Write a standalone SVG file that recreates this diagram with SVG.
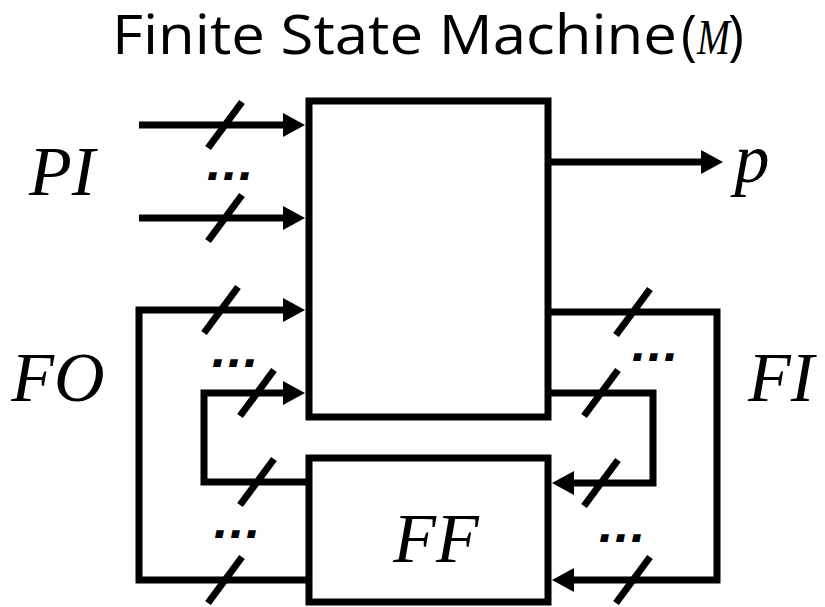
<svg xmlns="http://www.w3.org/2000/svg" width="825" height="607" viewBox="0 0 825 607">
<style>
.box{fill:#fff;stroke:#000;stroke-width:7}
.wire{fill:none;stroke:#000;stroke-width:7;stroke-linejoin:miter}
.arr{marker-end:url(#ah)}
.slash{stroke:#000;stroke-width:7}
.lbl{font-family:"Liberation Serif",serif;font-style:italic;font-size:70px;fill:#000;text-anchor:middle}
.dots{font-family:"DejaVu Sans",sans-serif;font-style:italic;font-weight:bold;font-size:40px;fill:#000}
.title{font-family:"Open Sans","Liberation Sans",sans-serif;font-size:54px;fill:#000}
</style>
<defs>
<marker id="ah" markerUnits="userSpaceOnUse" markerWidth="22" markerHeight="24" refX="10" refY="12" orient="auto" overflow="visible">
<path d="M0,0 L22,12 L0,24 Z" fill="#000"/>
</marker>
<line id="sl" class="slash" x1="-17" y1="23" x2="17" y2="-23"/>
</defs>
<g id="title">
<text class="title" x="112" y="54" textLength="565" lengthAdjust="spacingAndGlyphs">Finite State Machine</text>
<text class="title" x="681" y="54">(</text>
<text x="697" y="54" textLength="33" lengthAdjust="spacingAndGlyphs" style="font-family:'Liberation Serif',serif;font-style:italic;font-size:50px;fill:#000">M</text>
<text class="title" x="728" y="54">)</text>
</g>
<g id="connectors">
<path class="wire arr" d="M139,125 H293"/>
<path class="wire arr" d="M139,218 H293"/>
<path class="wire arr" d="M309,580 H139 V310 H293"/>
<path class="wire arr" d="M309,482 H204 V393 H293"/>
<path class="wire arr" d="M548,162 H711"/>
<path class="wire arr" d="M548,312 H717 V580 H564"/>
<path class="wire arr" d="M548,393 H653 V483 H564"/>
<use href="#sl" x="225" y="125"/>
<use href="#sl" x="225" y="218"/>
<use href="#sl" x="221" y="310"/>
<use href="#sl" x="257" y="393"/>
<use href="#sl" x="257" y="482"/>
<use href="#sl" x="225" y="580"/>
<use href="#sl" x="633" y="312"/>
<use href="#sl" x="601" y="393"/>
<use href="#sl" x="601" y="483"/>
<use href="#sl" x="633" y="580"/>
<text class="dots" x="206" y="180" textLength="48" lengthAdjust="spacingAndGlyphs">...</text>
<text class="dots" x="211" y="367" textLength="48" lengthAdjust="spacingAndGlyphs">...</text>
<text class="dots" x="213" y="538" textLength="48" lengthAdjust="spacingAndGlyphs">...</text>
<text class="dots" x="631" y="361" textLength="48" lengthAdjust="spacingAndGlyphs">...</text>
<text class="dots" x="598" y="542" textLength="48" lengthAdjust="spacingAndGlyphs">...</text>
</g>
<g id="M">
<rect class="box" x="309" y="101" width="239" height="316"/>
</g>
<g id="FF">
<rect class="box" x="309" y="458" width="239" height="144"/>
<text class="lbl" x="436" y="562">FF</text>
</g>
<g id="PI"><text class="lbl" x="62" y="195">PI</text></g>
<g id="FO"><text class="lbl" x="58" y="401">FO</text></g>
<g id="FI"><text class="lbl" x="781" y="401">FI</text></g>
<g id="p"><text class="lbl" x="752" y="182">p</text></g>
</svg>
